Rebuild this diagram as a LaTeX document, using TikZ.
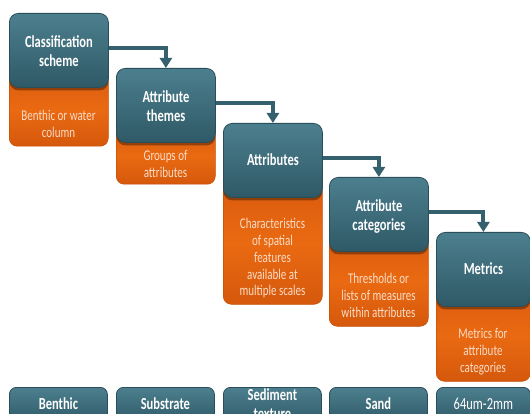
\documentclass[tikz,border=0pt]{standalone}
\usepackage{fontspec}
\usepackage{graphicx}
\setmainfont{Carlito}
\usetikzlibrary{arrows.meta,shadows,calc}
\definecolor{tealtop}{HTML}{4C7F8E}
\definecolor{tealbot}{HTML}{2F5966}
\definecolor{tealedge}{HTML}{2A4F5B}
\definecolor{orgtop}{HTML}{D95A0E}
\definecolor{orgmid}{HTML}{EA6A12}
\definecolor{orgbot}{HTML}{D5580C}
\definecolor{orgedge}{HTML}{C4500A}
\definecolor{orgtext}{HTML}{FBDCC6}
\definecolor{arrowcol}{HTML}{35606E}
\newcommand{\vtxt}[2][-3pt]{\raisebox{#1}[\height][\depth]{\scalebox{1}[1.35]{\begin{tabular}{@{}c@{}}#2\end{tabular}}}}
\tikzset{
  tealbox/.style={rectangle, rounded corners=9pt, anchor=north west,
    top color=tealtop, bottom color=tealbot, draw=tealedge, line width=0.8pt,
    minimum width=99pt, minimum height=74pt, inner sep=0pt,
    text=white, align=center, font=\bfseries\fontsize{12.5}{14}\selectfont,
    drop shadow={shadow xshift=0pt, shadow yshift=-3pt, opacity=0.35, fill=black}},
  orgbox/.style={rectangle, rounded corners=8pt, anchor=north west,
    top color=orgtop, bottom color=orgbot, middle color=orgmid,
    draw=orgedge, line width=0.5pt, minimum width=99pt, inner sep=0pt},
  orgtxt/.style={text=orgtext, align=center, font=\fontsize{11}{12.4}\selectfont, inner sep=0pt},
  basebox/.style={rectangle, rounded corners=7pt, anchor=north west,
    top color=tealtop, bottom color=tealbot, draw=tealedge, line width=0.8pt,
    minimum width=98pt, minimum height=36pt, inner sep=0pt,
    text=white, align=center, font=\bfseries\fontsize{12.5}{14}\selectfont},
  flowarrow/.style={draw=arrowcol, line width=4pt,
    -{Triangle[width=12pt,length=10pt]}},
}
\begin{document}
\begin{tikzpicture}[x=1pt,y=-1pt]
\useasboundingbox (0,0) rectangle (530,414);
\clip (0,0) rectangle (530,414);
% orange boxes
\node[orgbox, minimum height=74pt] (o1) at (9,72) {};
\node[orgbox, minimum height=57pt] (o2) at (116,127) {};
\node[orgbox, minimum height=122pt] (o3) at (223,182) {};
\node[orgbox, minimum height=91pt] (o4) at (329,235) {};
\node[orgbox, minimum height=91pt, minimum width=94pt] (o5) at (436,290) {};
% teal boxes
\node[tealbox] (t1) at (9,13) {\vtxt{Classification\\scheme}};
\node[tealbox] (t2) at (116,68) {\vtxt{Attribute\\themes}};
\node[tealbox] (t3) at (223,123) {\vtxt[-1pt]{Attributes}};
\node[tealbox] (t4) at (329,177) {\vtxt{Attribute\\categories}};
\node[tealbox, minimum width=94pt] (t5) at (436,232) {\vtxt[-1pt]{Metrics}};
% orange texts
\node[orgtxt] (d1) at (58.5,123) {\vtxt{Benthic or water\\column}};
\node[orgtxt] (d2) at (165.5,163) {\vtxt{Groups of\\attributes}};
\node[orgtxt] (d3) at (272.5,256) {\vtxt{Characteristics\\of spatial\\features\\available at\\multiple scales}};
\node[orgtxt] (d4) at (378.5,294) {\vtxt{Thresholds or\\lists of measures\\within attributes}};
\node[orgtxt] (d5) at (483,349) {\vtxt{Metrics for\\attribute\\categories}};
% arrows
\draw[flowarrow] ([yshift=2pt]t1.east) -| (t2.north);
\draw[flowarrow] ([yshift=2pt]t2.east) -| (t3.north);
\draw[flowarrow] ([yshift=2pt]t3.east) -| (t4.north);
\draw[flowarrow] ([yshift=2pt]t4.east) -| (t5.north);
% bottom row
\node[basebox] (b1) at (9,387) {\vtxt[0pt]{Benthic}};
\node[basebox] (b2) at (116,387) {\vtxt[0pt]{Substrate}};
\node[basebox] (b3) at (223,387) {\vtxt[0pt]{Sediment\\texture}};
\node[basebox] (b4) at (329,387) {\vtxt[0pt]{Sand}};
\node[basebox, minimum width=94pt, font=\fontsize{12.5}{14}\selectfont] (b5) at (436,387) {\vtxt[0pt]{64um-2mm}};
\end{tikzpicture}
\end{document}
